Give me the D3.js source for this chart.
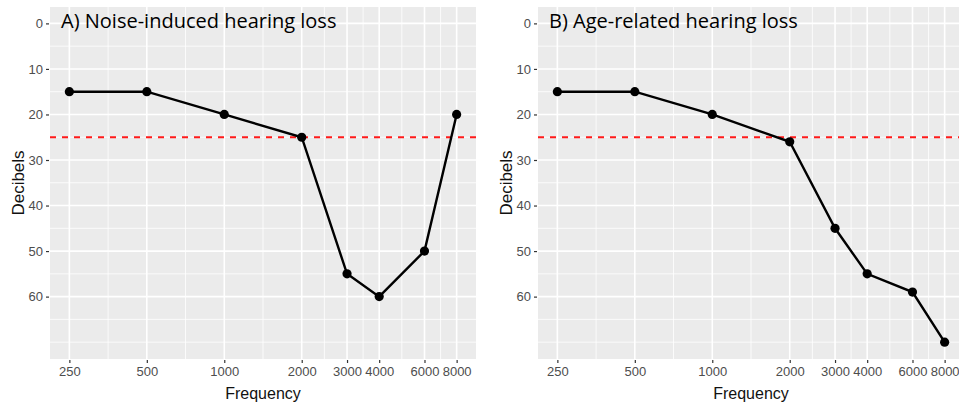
<!DOCTYPE html>
<html>
<head>
<meta charset="utf-8">
<script src="https://cdn.jsdelivr.net/npm/d3@7"></script>
<style>
  body { margin: 0; background: #fff; }
  text { font-family: "Liberation Sans", Arial, sans-serif; }
</style>
</head>
<body>
<svg id="mainsvg" width="959" height="410"></svg>
<script>
// data
const frequencies = [250, 500, 1000, 2000, 3000, 4000, 6000, 8000];
const noiseLoss = [15, 15, 20, 25, 55, 60, 50, 20];
const ageLoss = [15, 15, 20, 26, 45, 55, 59, 70];
const yTicks = [0, 10, 20, 30, 40, 50, 60];
const yMinor = [5, 15, 25, 35, 45, 55, 65, 70];
const threshold = 25;
const titles = ['A) Noise-induced hearing loss', 'B) Age-related hearing loss'];

const svg = d3.select('#mainsvg');
const panelTop = 7, panelBottom = 359;
const panels = [
  {left: 50, right: 476, title: titles[0], values: noiseLoss},
  {left: 538, right: 964, title: titles[1], values: ageLoss}
];

// minor breaks of a log axis: midpoints between majors in log space
const xMinor = d3.range(frequencies.length - 1)
  .map(i => Math.sqrt(frequencies[i] * frequencies[i + 1]));

panels.forEach(p => {
  const span = Math.log2(8000 / 250) * 0.05;
  const xScale = d3.scaleLog().base(2)
    .domain([250 * Math.pow(2, -span), 8000 * Math.pow(2, span)])
    .range([p.left, p.right]);
  const yScale = d3.scaleLinear()
    .domain([-3.6, 73.7])
    .range([panelTop, panelBottom]);

  const g = svg.append('g');

  g.append('rect')
    .attr('x', p.left).attr('y', panelTop)
    .attr('width', p.right - p.left).attr('height', panelBottom - panelTop)
    .attr('fill', '#ebebeb');

  // grid
  g.selectAll('.yminor').data(yMinor).join('line')
    .attr('x1', p.left).attr('x2', p.right)
    .attr('y1', d => yScale(d)).attr('y2', d => yScale(d))
    .attr('stroke', '#fff').attr('stroke-width', 0.8);
  g.selectAll('.xminor').data(xMinor).join('line')
    .attr('y1', panelTop).attr('y2', panelBottom)
    .attr('x1', d => xScale(d)).attr('x2', d => xScale(d))
    .attr('stroke', '#fff').attr('stroke-width', 0.8);
  g.selectAll('.ymajor').data(yTicks).join('line')
    .attr('x1', p.left).attr('x2', p.right)
    .attr('y1', d => yScale(d)).attr('y2', d => yScale(d))
    .attr('stroke', '#fff').attr('stroke-width', 1.6);
  g.selectAll('.xmajor').data(frequencies).join('line')
    .attr('y1', panelTop).attr('y2', panelBottom)
    .attr('x1', d => xScale(d)).attr('x2', d => xScale(d))
    .attr('stroke', '#fff').attr('stroke-width', 1.6);

  // axes
  const yAxis = d3.axisLeft(yScale).tickValues(yTicks).tickSize(3).tickPadding(3);
  const xAxis = d3.axisBottom(xScale).tickValues(frequencies)
    .tickFormat(d3.format('d')).tickSize(3).tickPadding(4);

  const ya = g.append('g').attr('transform', `translate(${p.left - 1},0)`).call(yAxis);
  const xa = g.append('g').attr('transform', `translate(0,${panelBottom + 1})`).call(xAxis);
  [ya, xa].forEach(a => {
    a.select('.domain').remove();
    a.selectAll('line').attr('stroke', '#333').attr('stroke-width', 1.2);
    a.selectAll('text').attr('fill', '#4d4d4d').attr('font-size', 13)
      .attr('font-family', '"Liberation Sans", Arial, sans-serif');
  });

  // threshold line
  g.append('line')
    .attr('x1', p.left).attr('x2', p.right)
    .attr('y1', yScale(threshold)).attr('y2', yScale(threshold))
    .attr('stroke', '#ff1a1a').attr('stroke-width', 1.8)
    .attr('stroke-dasharray', '6,6');

  // series
  const pts = frequencies.map((f, i) => ({f: f, v: p.values[i]}));
  const line = d3.line().x(d => xScale(d.f)).y(d => yScale(d.v));
  g.append('path').datum(pts)
    .attr('d', line).attr('fill', 'none')
    .attr('stroke', '#000').attr('stroke-width', 2.4);
  g.selectAll('.pt').data(pts).join('circle')
    .attr('cx', d => xScale(d.f)).attr('cy', d => yScale(d.v))
    .attr('r', 4.6).attr('fill', '#000');

  // labels
  g.append('text')
    .attr('x', p.left + 11).attr('y', 28)
    .style('font-family', '"Open Sans", sans-serif')
    .attr('font-size', 20).attr('fill', '#000')
    .text(p.title);
  g.append('text')
    .attr('x', (p.left + p.right) / 2).attr('y', 399)
    .attr('text-anchor', 'middle').attr('font-size', 16).attr('fill', '#111')
    .text('Frequency');
  g.append('text')
    .attr('transform', `translate(${p.left - 26},${(panelTop + panelBottom) / 2}) rotate(-90)`)
    .attr('text-anchor', 'middle').attr('font-size', 17).attr('fill', '#111')
    .text('Decibels');
});
</script>
</body>
</html>
